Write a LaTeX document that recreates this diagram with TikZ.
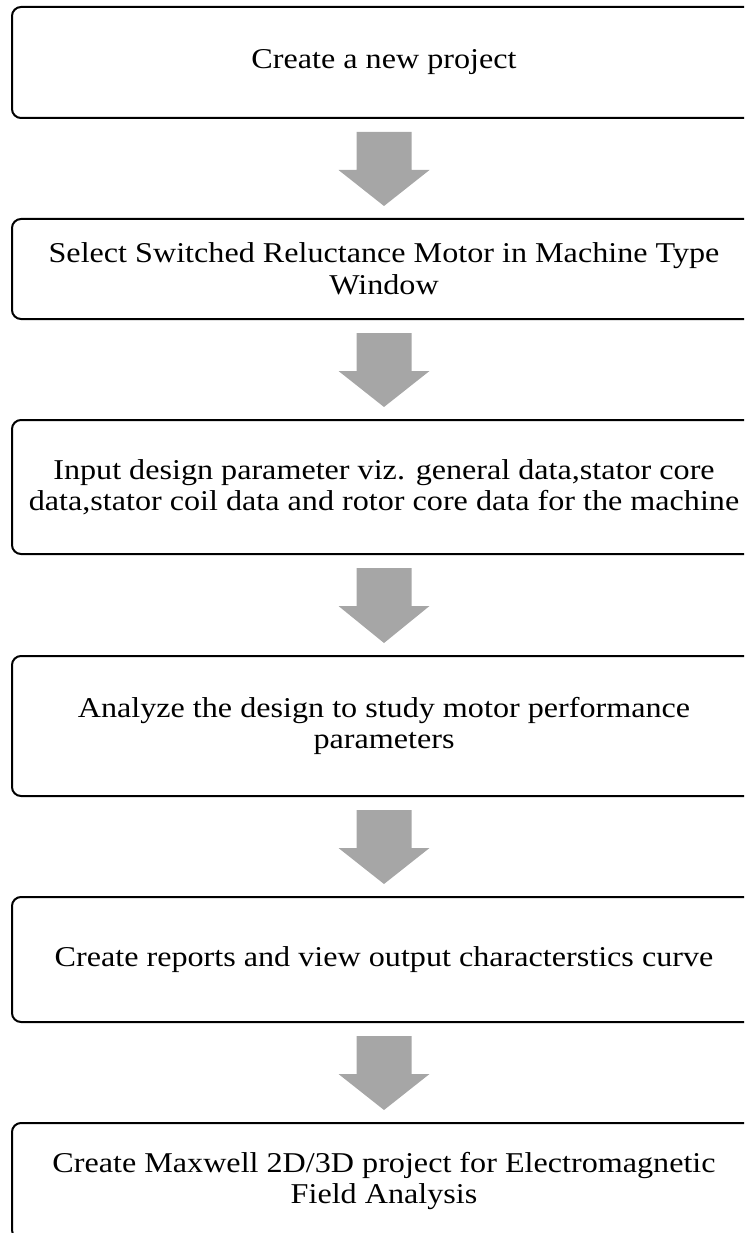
\documentclass[tikz,border=0pt]{standalone}
\usepackage{fontspec}
\setmainfont[FakeStretch=1.12]{Liberation Serif}
\usetikzlibrary{calc}
\definecolor{arrowgray}{HTML}{A6A6A6}
\tikzset{
  stepbox/.style={draw=black, line width=2pt, rounded corners=9pt, minimum width=744pt,
    align=center, inner sep=0pt, font=\fontsize{28.7}{31.5}\selectfont},
}
\newcommand{\blockarr}[2]{%
  \fill[arrowgray] ($(#1.south)+(-27.5pt,-13pt)$) -- ($(#1.south)+(27.5pt,-13pt)$)
    -- ($(#1.south)+(27.5pt,-51pt)$) -- ($(#1.south)+(45.5pt,-51pt)$)
    -- ($(#2.north)+(0,12pt)$)
    -- ($(#1.south)+(-45.5pt,-51pt)$) -- ($(#1.south)+(-27.5pt,-51pt)$) -- cycle;}
\begin{document}
\begin{tikzpicture}[x=1pt,y=1pt]
\useasboundingbox (0,0) rectangle (744,-1233);
\clip (0,0) rectangle (744,-1233);
\node[stepbox, minimum height=111pt] (b1) at (384,-62.5) {Create a new project};
\node[stepbox, minimum height=100pt] (b2) at (384,-269) {Select Switched Reluctance Motor in Machine Type\\Window};
\node[stepbox, minimum height=134pt] (b3) at (384,-487) {Input design parameter viz. general data,stator core\\data,stator coil data and rotor core data for the machine};
\node[stepbox, minimum height=140pt] (b4) at (384,-726) {Analyze the design to study motor performance\\parameters};
\node[stepbox, minimum height=125pt] (b5) at (384,-959.5) {Create reports and view output characterstics curve};
\node[stepbox, minimum height=116pt] (b6) at (384,-1181) {Create Maxwell 2D/3D project for Electromagnetic\\Field Analysis};
\blockarr{b1}{b2}
\blockarr{b2}{b3}
\blockarr{b3}{b4}
\blockarr{b4}{b5}
\blockarr{b5}{b6}
\end{tikzpicture}
\end{document}
